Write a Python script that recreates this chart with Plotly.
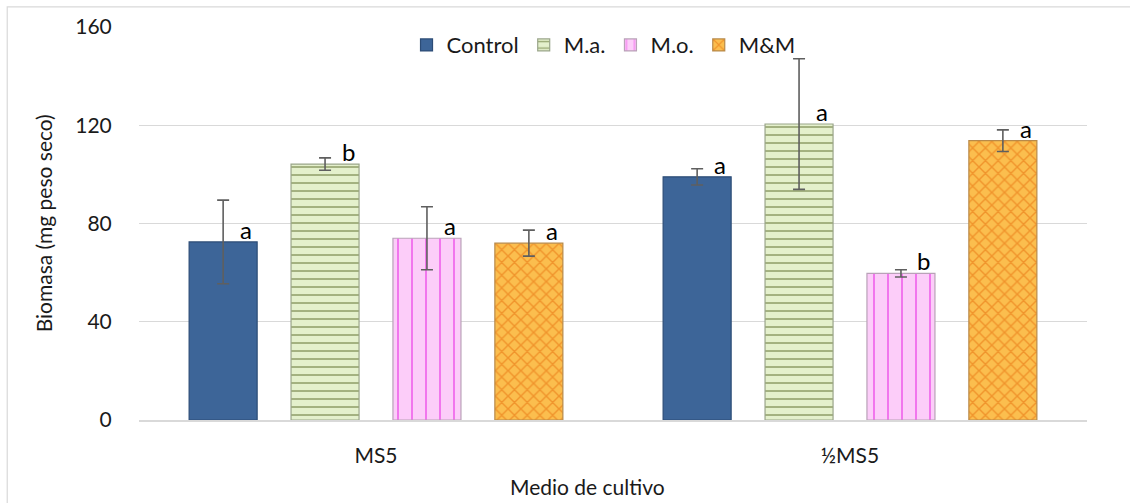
import plotly.graph_objects as go

# Culture media (x categories) and treatments (series)
media = ["MS5", "½MS5"]
treatments = ["Control", "M.a.", "M.o.", "M&M"]

# Mean dry biomass (mg) per treatment, one value per medium
control_vals = [72.5, 99.0]
ma_vals = [104.2, 120.5]
mo_vals = [74.0, 59.7]
mm_vals = [72.0, 113.7]

# Standard deviations
control_err = [17.0, 3.3]
ma_err = [2.5, 26.6]
mo_err = [12.8, 1.5]
mm_err = [5.3, 4.4]

# Significance letters
control_sig = ["a", "a"]
ma_sig = ["b", "a"]
mo_sig = ["a", "b"]
mm_sig = ["a", "a"]

values = [control_vals, ma_vals, mo_vals, mm_vals]
errors = [control_err, ma_err, mo_err, mm_err]
letters = [control_sig, ma_sig, mo_sig, mm_sig]

FONT = "Lato"
TXT = "#1a1a1a"
styles = [
    dict(color="#3D6598", line="#2C4C76", pattern=None),
    dict(color="#E4F0CC", line="#9AA58A",
         pattern=dict(shape="-", fgcolor="#6F8043", fgopacity=0.7, size=8,
                      solidity=0.2, fillmode="overlay")),
    dict(color="#FCCDF9", line="#B9A2B8",
         pattern=dict(shape="|", fgcolor="#EE55EA", fgopacity=0.75, size=14,
                      solidity=0.14, fillmode="overlay")),
    dict(color="#FBBE4E", line="#B88A4A",
         pattern=dict(shape="x", fgcolor="#EE8A22", fgopacity=0.8, size=9,
                      solidity=0.3, fillmode="overlay")),
]

step = 0.215      # distance between neighbouring bars within a group
bar_w = 0.1435    # bar width in axis units
group_pos = list(range(len(media)))

fig = go.Figure()
annotations = []
for i, name in enumerate(treatments):
    off = (i - (len(treatments) - 1) / 2) * step
    xs = [g + off for g in group_pos]
    st = styles[i]
    marker = dict(color=st["color"], line=dict(color=st["line"], width=1.2))
    if st["pattern"]:
        marker["pattern"] = st["pattern"]
    fig.add_trace(go.Bar(
        x=xs, y=values[i], width=bar_w, name=name, marker=marker,
        error_y=dict(type="data", array=errors[i], visible=True,
                     color="#5F5F5F", thickness=1.6, width=6),
    ))
    for x, y, t in zip(xs, values[i], letters[i]):
        annotations.append(dict(
            x=x, y=y, xref="x", yref="y", text=t, showarrow=False,
            xanchor="center", yanchor="bottom", xshift=23, yshift=-4,
            font=dict(family=FONT, size=24, color="#000000"),
        ))

annotations.append(dict(
    text="Biomasa (mg peso seco)", textangle=-90, x=-0.101, y=0.501,
    xref="paper", yref="paper", showarrow=False, xanchor="center", yanchor="middle",
    font=dict(family=FONT, size=21, color=TXT),
))
annotations.append(dict(
    text="Medio de cultivo", x=0.4736, y=-0.170,
    xref="paper", yref="paper", showarrow=False, xanchor="center", yanchor="middle",
    font=dict(family=FONT, size=21, color=TXT),
))

fig.update_layout(
    width=1130, height=503,
    margin=dict(l=139, r=43, t=27, b=83),
    paper_bgcolor="white", plot_bgcolor="white",
    barmode="overlay",
    font=dict(family=FONT, size=21, color=TXT),
    showlegend=True,
    legend=dict(orientation="h", x=0.49, y=0.954, xanchor="center", yanchor="middle",
                bgcolor="rgba(0,0,0,0)", font=dict(family=FONT, size=22, color=TXT),
                itemwidth=30, traceorder="normal"),
    annotations=annotations,
    shapes=[dict(type="rect", xref="paper", yref="paper",
                 x0=-0.139, x1=1.1, y0=-0.25, y1=1.051,
                 line=dict(color="#D9D9D9", width=1.2), layer="below")],
)
fig.update_xaxes(
    range=[-0.5, 1.5], tickvals=group_pos, ticktext=media,
    showgrid=False, zeroline=False, showline=True, linecolor="#D9D9D9", linewidth=2,
    ticks="outside", ticklen=16, tickcolor="rgba(0,0,0,0)",
    tickfont=dict(family=FONT, size=21, color=TXT),
)
fig.update_yaxes(
    range=[0, 160], dtick=40, showgrid=True, gridcolor="#D9D9D9", gridwidth=1,
    zeroline=False, showline=False,
    ticks="outside", ticklen=22, tickcolor="rgba(0,0,0,0)",
    tickfont=dict(family=FONT, size=21, color=TXT),
)

fig.write_html("out.html")
